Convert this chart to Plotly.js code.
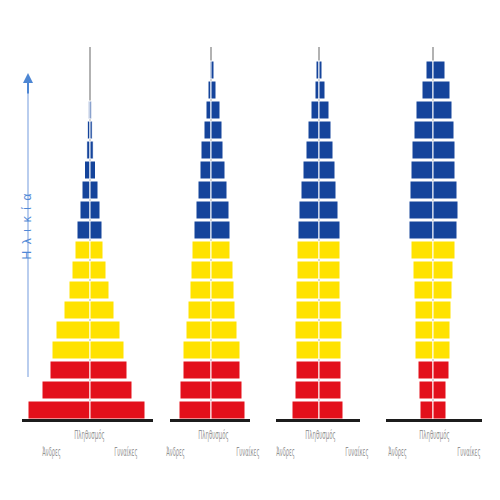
<!DOCTYPE html>
<html>
<head>
<meta charset="utf-8">
<script src="https://cdn.plot.ly/plotly-3.0.1.min.js"></script>
<style>html,body{margin:0;padding:0;background:#fff}#chart{width:500px;height:500px}</style>
</head>
<body>
<div id="chart"></div>
<script>
// Age bands (bottom to top)
const ageGroups = ['0-4','5-9','10-14','15-19','20-24','25-29','30-34','35-39','40-44','45-49','50-54','55-59','60-64','65-69','70-74','75-79','80-84','85-89'];

// Four pyramids: males (left) and females (right), relative population
const p1Male   = [62,48,40,38,34,26,21,18,15,13,10,8,5.5,3.3,2.7,1.7];
const p1Female = [55,42,37,34,30,24,19,16,13,12,10,8,5.5,3.3,2.3,1.7];
const p2Male   = [32,31,28,28,25,23,21,20,19,17,15,13,11,10,7,5,3,1.5];
const p2Female = [34,31,29,29,26,24,23,22,19,19,18,16,14,12,11,9,5,3];
const p3Male   = [27,24,23,23,24,23,23,22,22,21,20,18,16,13,11,8,4,3];
const p3Female = [24,22,22,22,23,22,21,21,21,21,19,17,16,14,12,10,6,3];
const p4Male   = [13,14,15,18,18,18,19,20,22,24,24,23,22,21,19,17,11,7];
const p4Female = [13,13,16,17,17,18,19,20,22,24,25,24,22,22,21,19,17,12];

const labelMale = 'Άνδρες';
const labelPop = 'Πληθυσμός';
const labelFemale = 'Γυναίκες';
const labelAge = 'Ηλικία';

const pyramids = [
  {m: p1Male, f: p1Female},
  {m: p2Male, f: p2Female},
  {m: p3Male, f: p3Female},
  {m: p4Male, f: p4Female}
];

const RED = '#e3101b', YELLOW = '#ffe200', BLUE = '#15449b';
function bandColor(k){ return k < 3 ? RED : (k < 9 ? YELLOW : BLUE); }

const data = [];
pyramids.forEach((p, i) => {
  const ax = i === 0 ? 'x' : 'x' + (i + 1);
  const yv = p.m.map((_, k) => k + 0.5);
  const cols = p.m.map((_, k) => bandColor(k));
  data.push({type:'bar', orientation:'h', xaxis:ax, yaxis:'y', x:p.m.map(v=>-v), y:yv, width:0.9,
    marker:{color:cols, line:{color:'#ffffff', width:1}}, hoverinfo:'skip'});
  data.push({type:'bar', orientation:'h', xaxis:ax, yaxis:'y', x:p.f.slice(), y:yv, width:0.9,
    marker:{color:cols, line:{color:'#ffffff', width:1}}, hoverinfo:'skip'});
});

const layout = {
  width:500, height:500,
  margin:{l:0,r:0,t:0,b:0},
  paper_bgcolor:'#ffffff', plot_bgcolor:'rgba(0,0,0,0)',
  showlegend:false, barmode:'overlay', hovermode:false,
  yaxis:{range:[-4,21], visible:false, fixedrange:true},
  shapes:[], annotations:[]
};
const domains = [[0.04,0.32],[0.322,0.522],[0.538,0.738],[0.766,0.966]];
const ranges = [70,50,50,50];
const baseExt = [[-68,63],[-41,39],[-43,41],[-47,49]];
const labelPos = [[-39,-1,36],[-36,2,37],[-34,1,38],[-36,1,36]];
domains.forEach((d, i) => {
  const key = i === 0 ? 'xaxis' : 'xaxis' + (i + 1);
  const ref = i === 0 ? 'x' : 'x' + (i + 1);
  layout[key] = {domain:d, range:[-ranges[i], ranges[i]], visible:false, anchor:'y', fixedrange:true};
  layout.shapes.push({type:'line', xref:ref, yref:'y', x0:0, x1:0, y0:0, y1:18.65, layer:'below',
    line:{color:'#b2b2b2', width:2}});
  layout.shapes.push({type:'line', xref:ref, yref:'y', x0:baseExt[i][0], x1:baseExt[i][1], y0:-0.02, y1:-0.02,
    line:{color:'#1c1c1c', width:3}});
  const f = {family:'DejaVu Sans Condensed, Liberation Sans Narrow, sans-serif', size:12, color:'#949494'};
  layout.annotations.push({xref:ref, yref:'y', x:labelPos[i][1], y:-0.75, text:labelPop, showarrow:false, font:f});
  layout.annotations.push({xref:ref, yref:'y', x:labelPos[i][0], y:-1.6, text:labelMale, showarrow:false, font:f});
  layout.annotations.push({xref:ref, yref:'y', x:labelPos[i][2], y:-1.6, text:labelFemale, showarrow:false, font:f});
});
// Age axis arrow and label
layout.shapes.push({type:'line', xref:'paper', yref:'paper', x0:0.056, x1:0.056, y0:1-377/500, y1:1-82/500,
  line:{color:'#b9cdee', width:2}});
layout.annotations.push({xref:'paper', yref:'paper', x:0.056, y:1-73/500, ax:0, ay:22, axref:'pixel', ayref:'pixel',
  showarrow:true, arrowhead:2, arrowsize:1, arrowwidth:2, arrowcolor:'#4d86d3', text:''});
layout.annotations.push({xref:'paper', yref:'paper', x:18/500, y:1-227/500, text:labelAge, textangle:-90,
  showarrow:false, font:{family:'Liberation Sans, Arial, sans-serif', size:12, color:'#4f88d6'}});

// target widths (px) of the narrow labels
const squeeze = {};
squeeze[labelPop] = 32;
squeeze[labelMale] = 20;
squeeze[labelFemale] = 25;

Plotly.newPlot('chart', data, layout, {displayModeBar:false, staticPlot:true}).then(() => {
  document.querySelectorAll('.annotation-text').forEach(t => {
    const txt = t.textContent;
    if (txt === labelAge) {
      t.setAttribute('textLength', 66);
      t.setAttribute('lengthAdjust', 'spacing');
      return;
    }
    const target = squeeze[txt];
    if (!target) return;
    const g = t.parentNode;
    const bb = g.getBBox();
    const s = target / bb.width;
    const cx = bb.x + bb.width / 2;
    const inner = document.createElementNS('http://www.w3.org/2000/svg', 'g');
    inner.setAttribute('transform', 'matrix(' + s + ',0,0,1,' + (cx * (1 - s)) + ',0)');
    while (g.firstChild) inner.appendChild(g.firstChild);
    g.appendChild(inner);
  });
});
</script>
</body>
</html>
